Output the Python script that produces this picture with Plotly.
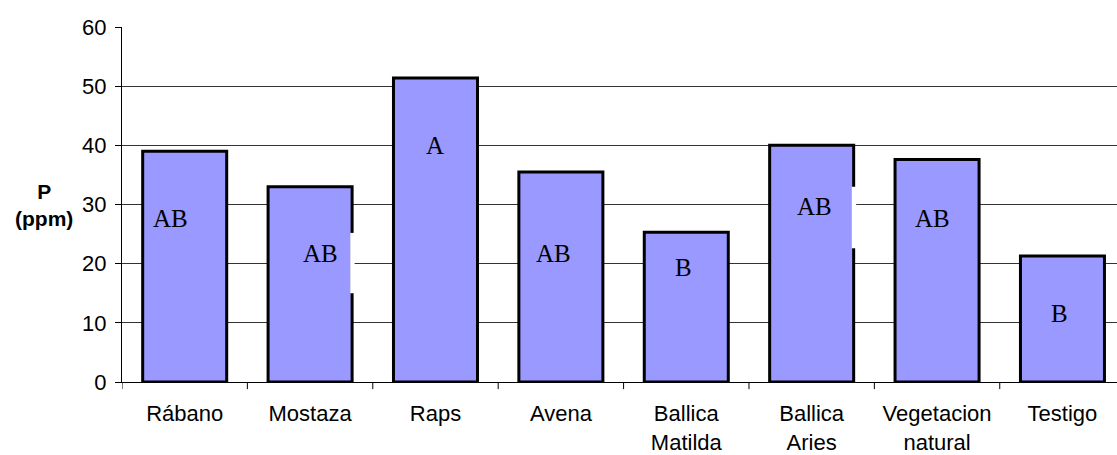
import plotly.graph_objects as go

categories = ["Rábano", "Mostaza", "Raps", "Avena", "Ballica<br>Matilda",
              "Ballica<br>Aries", "Vegetacion<br>natural", "Testigo"]
values = [39.0, 33.0, 51.4, 35.5, 25.3, 40.0, 37.6, 21.3]
letters = ["AB", "AB", "A", "AB", "B", "AB", "AB", "B"]
letter_y = [27.7, 21.8, 39.9, 21.8, 19.3, 29.6, 27.7, 11.5]
letter_dx = [-0.11, 0.08, 0.0, -0.06, -0.02, 0.02, -0.04, -0.02]
y_ticks = [0, 10, 20, 30, 40, 50, 60]

fig = go.Figure()
fig.add_trace(go.Bar(
    x=list(range(len(categories))), y=values, width=0.67,
    marker=dict(color="#9999FF", line=dict(color="black", width=3)),
    showlegend=False, hoverinfo="skip",
))

for i, (t, ty, dx) in enumerate(zip(letters, letter_y, letter_dx)):
    fig.add_annotation(x=i + dx, y=ty, text=t, showarrow=False,
                       font=dict(family="Liberation Serif, Times New Roman, serif",
                                 size=25, color="black"),
                       xref="x", yref="y")

# white text-box artifacts overlapping bar borders
for i, y0, y1 in [(1, 15.0, 25.2), (5, 22.6, 33.0)]:
    fig.add_shape(type="rect", xref="x", yref="y",
                  x0=i + 0.32, x1=i + 0.355, y0=y0, y1=y1,
                  fillcolor="white", line=dict(width=0), layer="above")

fig.add_annotation(xref="paper", yref="paper", x=-0.078, y=0.5,
                   xanchor="center", yanchor="middle", showarrow=False,
                   text="<b>P</b><br><b>(ppm)</b>",
                   font=dict(family="Liberation Sans, Arial, sans-serif", size=21, color="black"))

fig.update_layout(
    width=1117, height=455,
    margin=dict(l=122, r=0, t=27, b=73),
    paper_bgcolor="white", plot_bgcolor="white",
    font=dict(family="Liberation Sans, Arial, sans-serif", size=22, color="black"),
    bargap=0.33,
    xaxis=dict(
        tickmode="array", tickvals=list(range(len(categories))), ticktext=categories,
        range=[-0.5, 7.435], showgrid=False, zeroline=False,
        showline=True, linecolor="black", linewidth=1,
        ticks="", ticklabelstandoff=12,
    ),
    yaxis=dict(
        range=[0, 60], tickvals=y_ticks, showgrid=True, gridcolor="#333333", gridwidth=1,
        zeroline=False, showline=True, linecolor="black", linewidth=1,
        ticks="outside", ticklen=6, tickcolor="black", ticklabelstandoff=4,
    ),
)

# category boundary ticks on the x axis
for k in range(len(categories) + 1):
    fig.add_shape(type="line", xref="x", yref="paper", x0=k - 0.5, x1=k - 0.5,
                  y0=0, y1=-0.02, line=dict(color="black", width=1))

fig.write_html("out.html")
